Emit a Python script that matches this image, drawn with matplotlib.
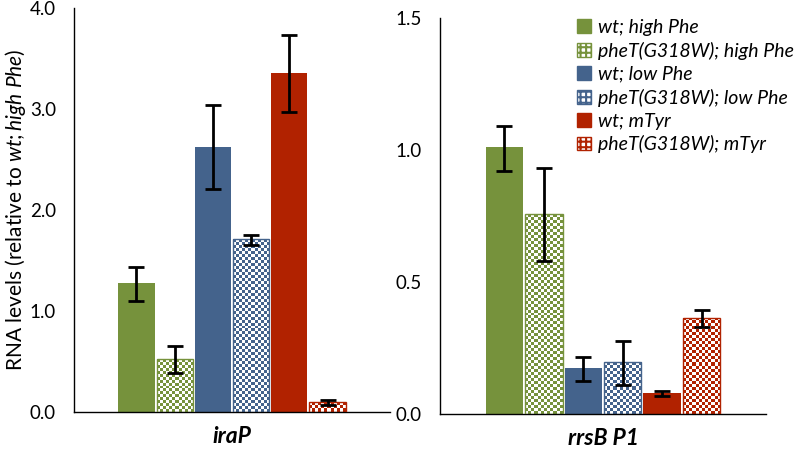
"""
RNA levels, iraP and rrsB P1
"""
import numpy as np
import matplotlib
matplotlib.use("Agg")
import matplotlib.pyplot as plt
from matplotlib.colors import ListedColormap
from matplotlib.patches import Patch

plt.rcParams['font.family'] = ['Lato', 'DejaVu Sans']
plt.rcParams['mathtext.fontset'] = 'custom'
plt.rcParams['mathtext.rm'] = 'Lato'
plt.rcParams['mathtext.it'] = 'Lato:italic'
plt.rcParams['hatch.linewidth'] = 1.5

conditions = ["wt; high Phe", "pheT(G318W); high Phe", "wt; low Phe",
              "pheT(G318W); low Phe", "wt; mTyr", "pheT(G318W); mTyr"]
colors = ["#76923C", "#76923C", "#44638C", "#44638C", "#B12200", "#B12200"]
hatched = [False, True, False, True, False, True]

# iraP
irap_val = [1.28, 0.52, 2.62, 1.71, 3.36, 0.10]
irap_low = [1.10, 0.39, 2.21, 1.65, 2.97, 0.07]
irap_high = [1.44, 0.65, 3.04, 1.75, 3.73, 0.12]

# rrsB P1
rrsb_val = [1.01, 0.757, 0.175, 0.196, 0.08, 0.365]
rrsb_low = [0.92, 0.58, 0.126, 0.11, 0.07, 0.33]
rrsb_high = [1.09, 0.93, 0.216, 0.277, 0.088, 0.395]

W, H = 796, 451
fig = plt.figure(figsize=(W / 100, H / 100), dpi=100)
ax1 = fig.add_axes([74 / W, (H - 412) / H, 316 / W, 404 / H])
ax2 = fig.add_axes([440 / W, (H - 414) / H, 326 / W, 396 / H])


def checker(ax, bar, color, cell_px=3.0):
    # checkerboard fill clipped to a bar
    x0, y0 = bar.get_x(), bar.get_y()
    x1, y1 = x0 + bar.get_width(), y0 + bar.get_height()
    p0 = ax.transData.transform((x0, y0))
    p1 = ax.transData.transform((x1, y1))
    nx = max(1, int(round(abs(p1[0] - p0[0]) / cell_px)))
    ny = max(1, int(round(abs(p1[1] - p0[1]) / cell_px)))
    grid = (np.add.outer(np.arange(ny), np.arange(nx)) % 2)
    im = ax.imshow(grid, extent=(x0, x1, y0, y1), origin="lower",
                   cmap=ListedColormap(["white", color]), aspect="auto",
                   interpolation="nearest", zorder=2)
    im.set_clip_path(bar)


def panel(ax, vals, low, high, ymax, yticks, label):
    x = np.arange(len(vals))
    ax.set_xlim(2.5 - 4.135, 2.5 + 4.135)
    ax.set_ylim(0, ymax)
    bars = ax.bar(x, vals, width=0.95, color=colors, zorder=1)
    for b, c, h in zip(bars, colors, hatched):
        if h:
            b.set_facecolor("white")
            b.set_edgecolor(c)
            b.set_linewidth(1.0)
            checker(ax, b, c)
            b.set_zorder(3)
            b.set_facecolor("none")
    err = [np.array(vals) - np.array(low), np.array(high) - np.array(vals)]
    ax.errorbar(x, vals, yerr=err, fmt="none", ecolor="black",
                elinewidth=2, capsize=6, capthick=2, zorder=4)
    ax.spines["top"].set_visible(False)
    ax.spines["right"].set_visible(False)
    ax.spines["left"].set_linewidth(1.0)
    ax.spines["bottom"].set_linewidth(1.0)
    ax.set_xticks([])
    ax.set_yticks(yticks)
    ax.set_yticklabels([f"{t:.1f}" for t in yticks])
    ax.tick_params(axis="y", length=0, pad=13, labelsize=13.5)
    ax.set_xlabel(label, fontsize=16.5, fontweight="bold", fontstyle="italic",
                  labelpad=10)


panel(ax1, irap_val, irap_low, irap_high, 4.0, [0, 1, 2, 3, 4], "iraP")
panel(ax2, rrsb_val, rrsb_low, rrsb_high, 1.5, [0, 0.5, 1.0, 1.5], "rrsB P1")

ax1.set_ylabel(r"RNA levels (relative to $\mathit{wt;high\ Phe}$)",
               fontsize=15)
ax1.yaxis.set_label_coords(-0.147, 0.50)

handles = []
for c, h in zip(colors, hatched):
    if h:
        handles.append(Patch(facecolor="white", edgecolor=c, hatch="+++",
                             linewidth=1))
    else:
        handles.append(Patch(facecolor=c, edgecolor=c))
fig.legend(handles, conditions, loc="upper left",
           bbox_to_anchor=(577 / W, 1 - 19 / H), frameon=False,
           prop={"style": "italic", "size": 14}, handlelength=0.7,
           handleheight=0.7, handletextpad=0.4, labelspacing=0.3,
           borderaxespad=0, borderpad=0)

fig.savefig("out.png", dpi=100)
